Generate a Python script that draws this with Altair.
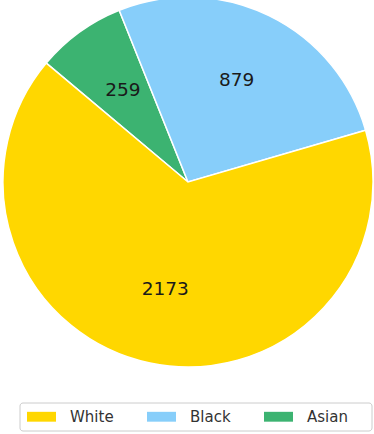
import altair as alt
import pandas as pd
import math

categories = ["Asian", "Black", "White"]
counts = [259, 879, 2173]
order_idx = [0, 1, 2]
legend_order = ["White", "Black", "Asian"]
colors = ["#FFD700", "#87CEFA", "#3CB371"]

df = pd.DataFrame({"race": categories, "count": counts, "ord": order_idx})

start = math.radians(-50)
theta_scale = alt.Scale(range=[start, start + 2 * math.pi])

base = alt.Chart(df).encode(
    theta=alt.Theta("count:Q", stack=True, scale=theta_scale),
    order=alt.Order("ord:Q"),
)

arcs = base.mark_arc(stroke="white", strokeWidth=1.5, outerRadius=185).encode(
    color=alt.Color(
        "race:N",
        scale=alt.Scale(domain=legend_order, range=colors),
        legend=alt.Legend(
            title=None,
            orient="none",
            legendX=27,
            legendY=402,
            direction="horizontal",
            symbolType="M-1,-0.34L1,-0.34L1,0.34L-1,0.34Z",
            symbolSize=841,
            symbolStrokeWidth=0,
            labelFont="DejaVu Sans",
            labelFontSize=15,
            labelColor="#333333",
            labelOffset=14,
            columnPadding=33,
            padding=0,
        ),
    ),
    x=alt.value(188),
    y=alt.value(182),
)

labels = base.mark_text(
    radius=111, font="DejaVu Sans", fontSize=18.5, color="#1a1a1a", dy=-2
).encode(
    text=alt.Text("count:Q"),
    x=alt.value(188),
    y=alt.value(182),
)

frame = alt.Chart(pd.DataFrame({"k": [0]})).mark_rect(
    fill="white", stroke="#cccccc", strokeWidth=1, cornerRadius=3
).encode(
    x=alt.value(20), x2=alt.value(372), y=alt.value(403), y2=alt.value(431)
)

chart = (
    alt.layer(frame, arcs, labels)
    .properties(width=374, height=434, autosize=alt.AutoSizeParams(type="none"), padding=0)
    .configure_view(stroke=None)
)

chart.save("out.html", embed_options={"renderer": "svg", "actions": False})
